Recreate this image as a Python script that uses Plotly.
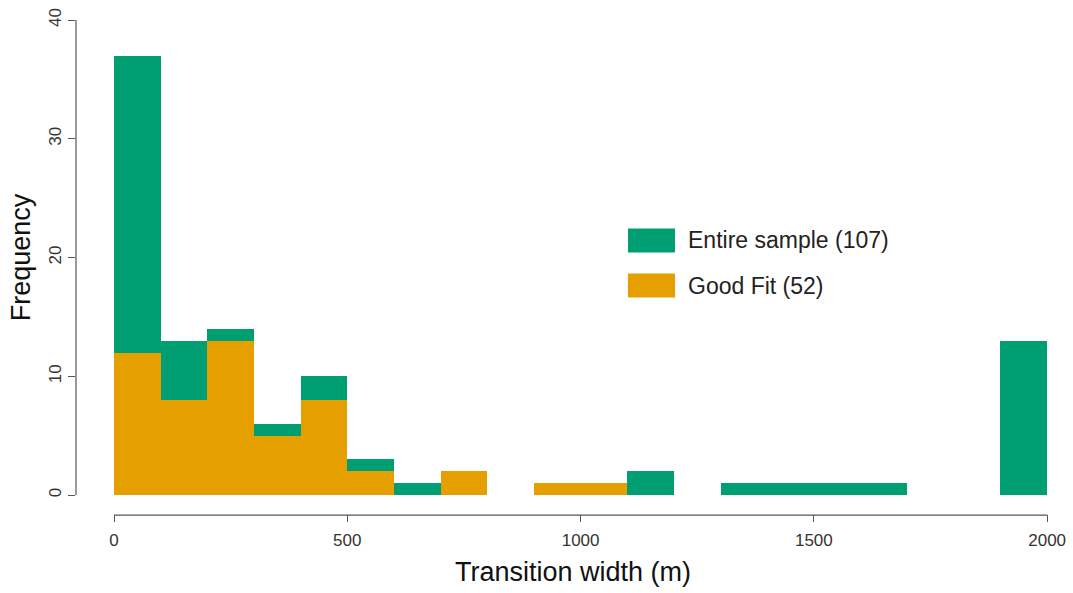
import plotly.graph_objects as go

bin_starts = [0, 100, 200, 300, 400, 500, 600, 700, 800, 900, 1000, 1100, 1200, 1300, 1400, 1500, 1600, 1700, 1800, 1900]
entire_counts = [37, 13, 14, 6, 10, 3, 1, 2, 0, 1, 1, 2, 0, 1, 1, 1, 1, 0, 0, 13]
goodfit_counts = [12, 8, 13, 5, 8, 2, 0, 2, 0, 1, 1, 0, 0, 0, 0, 0, 0, 0, 0, 0]
series_names = ["Entire sample (107)", "Good Fit (52)"]
series_colors = ["#009E73", "#E69F00"]
x_ticks = [0, 500, 1000, 1500, 2000]
y_ticks = [0, 10, 20, 30, 40]
bin_width = 100

FONT = "Liberation Sans, Arial, sans-serif"
AXC = "#555555"

fig = go.Figure()
for counts, name, color in [(entire_counts, series_names[0], series_colors[0]),
                            (goodfit_counts, series_names[1], series_colors[1])]:
    fig.add_trace(go.Bar(
        x=bin_starts, y=counts, width=[bin_width] * len(bin_starts), offset=0,
        marker=dict(color=color, line=dict(width=0)), name=name, showlegend=False,
    ))

# R-style detached axis lines
fig.add_shape(type="line", xref="x", yref="paper", x0=min(x_ticks), x1=max(x_ticks), y0=-0.002, y1=-0.002,
              line=dict(color=AXC, width=1.2))
fig.add_shape(type="line", xref="paper", yref="y", x0=0, x1=0, y0=min(y_ticks), y1=max(y_ticks),
              line=dict(color=AXC, width=1.2))

# legend (R style large swatches)
leg_x0, leg_x1, txt_x = 0.5553, 0.6026, 0.6137
leg_rows = [(0.5098, 0.5566), (0.4219, 0.4688)]
for (y0, y1), name, color in zip(leg_rows, series_names, series_colors):
    fig.add_shape(type="rect", xref="paper", yref="paper", x0=leg_x0, x1=leg_x1, y0=y0, y1=y1,
                  fillcolor=color, line=dict(width=0))
    fig.add_annotation(xref="paper", yref="paper", x=txt_x, y=(y0 + y1) / 2, text=name,
                       showarrow=False, xanchor="left", yanchor="middle",
                       font=dict(family=FONT, size=23, color="#222222"))

fig.update_layout(
    width=1073, height=593,
    margin=dict(l=76, r=3, t=1, b=79),
    paper_bgcolor="white", plot_bgcolor="white",
    barmode="overlay", bargap=0,
    font=dict(family=FONT),
    xaxis=dict(range=[-81.5, 2049], tickvals=x_ticks, ticks="outside", ticklen=7, tickcolor=AXC,
               tickwidth=1.2, showline=False, showgrid=False, zeroline=False,
               ticklabelstandoff=4,
               tickfont=dict(family=FONT, size=17, color="#333333"),
               title=dict(text="Transition width (m)", font=dict(family=FONT, size=27, color="#111111"),
                          standoff=12)),
    yaxis=dict(range=[-1.6, 41.6], tickvals=y_ticks, ticks="outside", ticklen=7, tickcolor=AXC,
               tickwidth=1.2, showline=False, showgrid=False, zeroline=False, tickangle=-90,
               tickfont=dict(family=FONT, size=17, color="#333333"),
               title=dict(text="Frequency", font=dict(family=FONT, size=27, color="#111111"),
                          standoff=7)),
)

fig.write_html("out.html")
